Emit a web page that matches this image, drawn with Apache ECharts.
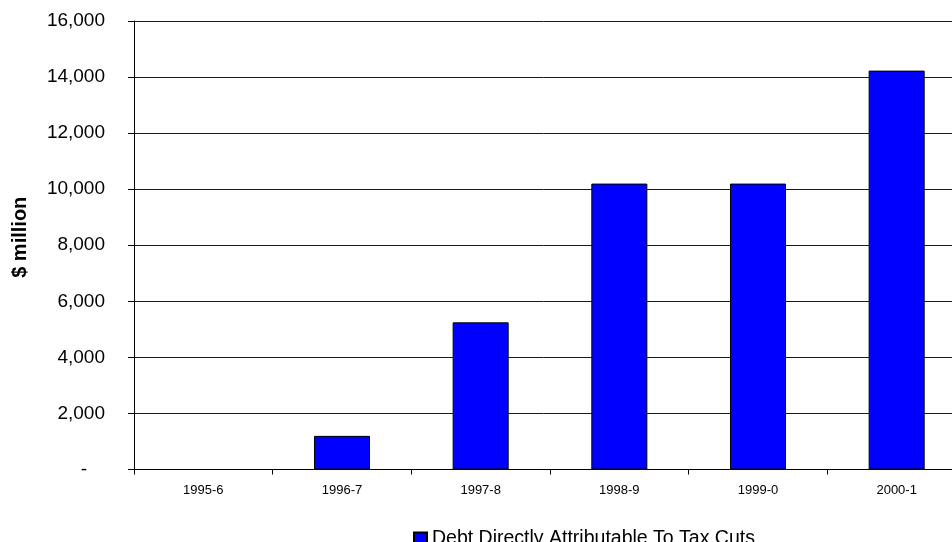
<!DOCTYPE html>
<html>
<head>
<meta charset="utf-8">
<script src="https://cdn.jsdelivr.net/npm/echarts@6/dist/echarts.min.js"></script>
<style>
  html, body { margin: 0; padding: 0; background: #ffffff; }
  #chart { width: 952px; height: 542px; }
</style>
</head>
<body>
<div id="chart"></div>
<script>
// 数据
const years = ['1995-6', '1996-7', '1997-8', '1998-9', '1999-0', '2000-1']
const debtValues = [0, 1200, 5250, 10200, 10200, 14230]
const seriesName = 'Debt Directly Attributable To Tax Cuts'

const font = '"Liberation Sans", Arial, sans-serif'

const chart = echarts.init(document.getElementById('chart'))
chart.setOption({
  animation: false,
  textStyle: { fontFamily: font, color: '#000000' },
  grid: {
    left: 134,
    top: 21,
    width: 832,
    bottom: 72.5,
    outerBoundsMode: 'none',
  },
  legend: {
    data: [seriesName],
    left: 408,
    top: 524,
    icon: 'rect',
    itemWidth: 13,
    itemHeight: 13,
    itemGap: 6,
    textStyle: { fontSize: 19.5, color: '#000000', fontFamily: font },
  },
  xAxis: {
    type: 'category',
    data: years,
    axisLine: { show: true, lineStyle: { color: '#000000', width: 1 } },
    axisTick: { show: true, length: 5, lineStyle: { color: '#000000' } },
    axisLabel: { fontSize: 13, margin: 14, color: '#000000', fontFamily: font },
  },
  yAxis: {
    type: 'value',
    min: 0,
    max: 16000,
    interval: 2000,
    name: '$ million',
    nameLocation: 'middle',
    nameGap: 104,
    nameRotate: 90,
    nameTextStyle: {
      fontSize: 20,
      fontWeight: 'bold',
      color: '#000000',
      fontFamily: font,
      padding: [0, 0, 0, 16],
    },
    axisLine: { show: true, lineStyle: { color: '#000000', width: 1 } },
    axisTick: { show: true, length: 6, lineStyle: { color: '#000000' } },
    splitLine: { show: true, lineStyle: { color: '#1a1a1a', width: 1 } },
    axisLabel: {
      fontSize: 19,
      margin: 29,
      color: '#000000',
      fontFamily: font,
      formatter: function (value) {
        if (value === 0) return '{dash|-}'
        return value.toLocaleString('en-US')
      },
      rich: {
        dash: { fontSize: 19, padding: [0, 18, 0, 0], fontFamily: font, color: '#000000' },
      },
    },
  },
  series: [
    {
      name: seriesName,
      type: 'bar',
      data: debtValues,
      barWidth: '40.4%',
      itemStyle: { color: '#0000ff', borderColor: '#000000', borderWidth: 1 },
    },
  ],
})
</script>
</body>
</html>
